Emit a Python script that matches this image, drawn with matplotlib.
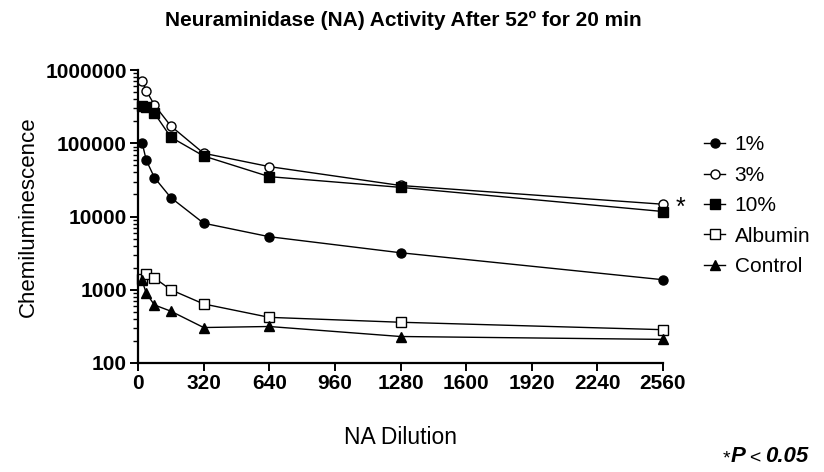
import matplotlib.pyplot as plt
from matplotlib.ticker import LogLocator, NullFormatter, FixedLocator

plt.rcParams['font.family'] = ['Liberation Sans', 'DejaVu Sans']

# NA dilution (x) and chemiluminescence readings per treatment
dilution = [20, 40, 80, 160, 320, 640, 1280, 2560]
pct1 = [102000, 59000, 34000, 18100, 8100, 5300, 3200, 1370]
pct3 = [714000, 523000, 333000, 172000, 73000, 48000, 26500, 14700]
pct10 = [323000, 316000, 257000, 121000, 67000, 35000, 25000, 11700]
albumin = [1400, 1650, 1450, 1000, 640, 420, 360, 285]
control = [1340, 900, 620, 510, 305, 315, 230, 210]

x_ticks = [0, 320, 640, 960, 1280, 1600, 1920, 2240, 2560]
y_ticks = [100, 1000, 10000, 100000, 1000000]

fig = plt.figure(figsize=(8.24, 4.72), dpi=100)
ax = fig.add_axes([138 / 824, 1 - 363 / 472, 525 / 824, 293 / 472])

style = dict(color='black', lw=1.0, ms=6.5, mew=1.0, clip_on=False)
ax.plot(dilution, pct1, marker='o', mfc='black', label='1%', **style)
ax.plot(dilution, pct3, marker='o', mfc='white', label='3%', **style)
ax.plot(dilution, pct10, marker='s', mfc='black', label='10%', **style)
ax.plot(dilution, albumin, marker='s', mfc='white', label='Albumin', **style)
ax.plot(dilution, control, marker='^', mfc='black', label='Control', **style)

ax.set_yscale('log')
ax.set_xlim(0, 2560)
ax.set_ylim(100, 1000000)
ax.xaxis.set_major_locator(FixedLocator(x_ticks))
ax.yaxis.set_major_locator(FixedLocator(y_ticks))
ax.yaxis.set_minor_locator(LogLocator(base=10, subs=range(2, 10)))
ax.yaxis.set_minor_formatter(NullFormatter())
ax.set_yticklabels([str(v) for v in y_ticks])
ax.set_xticklabels([str(v) for v in x_ticks])

for side in ['top', 'right']:
    ax.spines[side].set_visible(False)
for side in ['left', 'bottom']:
    ax.spines[side].set_linewidth(1.6)
ax.tick_params(which='major', direction='out', length=6, width=1.4,
               labelsize=15, pad=2)
ax.tick_params(which='minor', direction='out', length=3.5, width=1.0)
for lab in ax.get_xticklabels() + ax.get_yticklabels():
    lab.set_fontweight('bold')

ax.set_xlabel('NA Dilution', fontsize=16.5, labelpad=24)
ax.set_ylabel('Chemiluminescence', fontsize=16, labelpad=5)

fig.text(0.49, 1 - 20 / 472, 'Neuraminidase (NA) Activity After 52º for 20 min',
         ha='center', va='center', fontsize=15, fontweight='bold')

ax.text(2620, 13000, '*', fontsize=18, ha='left', va='center')

ax.legend(loc='upper left', bbox_to_anchor=(696 / 824, 1 - 127 / 472),
          bbox_transform=fig.transFigure, frameon=False, fontsize=15,
          handlelength=1.0, handletextpad=0.45, labelspacing=0.55,
          borderaxespad=0)

# significance note, bottom right
t1 = fig.text(723 / 824, 1 - 463 / 472, '*', fontsize=14, va='baseline')
t2 = ax.annotate('P', xy=(1, 0), xycoords=t1, fontsize=16, fontweight='bold',
                 fontstyle='italic', va='bottom', annotation_clip=False)
t3 = ax.annotate('\u2009<\u2009', xy=(1, 0), xycoords=t2, fontsize=14, va='bottom',
                 annotation_clip=False)
ax.annotate('0.05', xy=(1, 0), xycoords=t3, fontsize=16, fontweight='bold',
            fontstyle='italic', va='bottom', annotation_clip=False)

fig.savefig('out.png', dpi=100)
